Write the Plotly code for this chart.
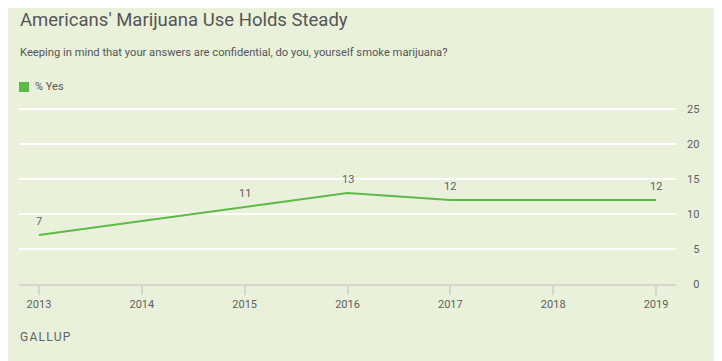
import plotly.graph_objects as go

years = [2013, 2015, 2016, 2017, 2019]
pct_yes = [7, 11, 13, 12, 12]
x_ticks = [2013, 2014, 2015, 2016, 2017, 2018, 2019]
y_ticks = [0, 5, 10, 15, 20, 25]

BG = "#e9f1da"
GREEN = "#5bbb46"
TXT = "#5f5f5f"
FONT = "Roboto"

# page body has an 8px margin; figure sized/positioned to compensate
W, H = 714, 353
L, R, T, B = 11, 46, 99, 77
PW, PH = W - L - R, H - T - B
Y_TOP = 25 + (101 - T) / 7.0


def px_x(x):
    return (x - L) / PW


def px_y(y):
    return (H - B - y) / PH


fig = go.Figure()
fig.add_trace(go.Scatter(
    x=years, y=pct_yes, mode="lines",
    line=dict(color=GREEN, width=2),
    showlegend=False, cliponaxis=False, hoverinfo="x+y",
))

annotations = [
    dict(x=xv, y=yv, xref="x", yref="y", text=str(yv), showarrow=False,
         yshift=14, font=dict(family=FONT, size=11, color=TXT))
    for xv, yv in zip(years, pct_yes)
]
annotations += [
    dict(text="Americans' Marijuana Use Holds Steady", xref="paper", yref="paper",
         x=px_x(10), y=px_y(12), xanchor="left", yanchor="middle",
         showarrow=False, font=dict(family=FONT, size=18.5, color="#555555")),
    dict(text="Keeping in mind that your answers are confidential, do you, yourself smoke marijuana?",
         xref="paper", yref="paper",
         x=px_x(10), y=px_y(45), xanchor="left", yanchor="middle",
         showarrow=False, font=dict(family=FONT, size=11.2, color="#555555")),
    dict(text="% Yes", xref="paper", yref="paper",
         x=px_x(25), y=px_y(79), xanchor="left", yanchor="middle",
         showarrow=False, font=dict(family=FONT, size=11, color="#555555")),
    dict(text="\u200a".join("GALLUP"), xref="paper", yref="paper",
         x=px_x(10), y=px_y(329), xanchor="left", yanchor="middle",
         showarrow=False, font=dict(family=FONT, size=12, color="#626262")),
]

fig.update_layout(
    width=W, height=H,
    paper_bgcolor=BG, plot_bgcolor=BG,
    margin=dict(l=L, r=R, t=T, b=B),
    showlegend=False,
    xaxis=dict(
        range=[2013 - 20 / 103, 2019 + 20 / 103],
        tickvals=x_ticks, ticktext=[str(v) for v in x_ticks],
        showgrid=False, zeroline=False,
        showline=True, linecolor="#d4d6d0", linewidth=2,
        ticks="outside", ticklen=9, tickwidth=2, tickcolor="#d4d6d0",
        tickfont=dict(family=FONT, size=11, color=TXT),
        fixedrange=True,
    ),
    yaxis=dict(
        range=[0, Y_TOP], side="right",
        tickvals=y_ticks,
        ticktext=[("\u2007" + str(v)) if v < 10 else str(v) for v in y_ticks],
        showgrid=True, gridcolor="#ffffff", gridwidth=2,
        zeroline=False, showline=False, ticks="",
        ticklabelstandoff=10,
        tickfont=dict(family=FONT, size=11, color=TXT),
        fixedrange=True,
    ),
    annotations=annotations,
    shapes=[
        dict(type="rect", xref="paper", yref="paper",
             x0=px_x(11), x1=px_x(21), y0=px_y(84), y1=px_y(74),
             fillcolor=GREEN, line=dict(width=0)),
    ],
)

fig.write_html("out.html")
